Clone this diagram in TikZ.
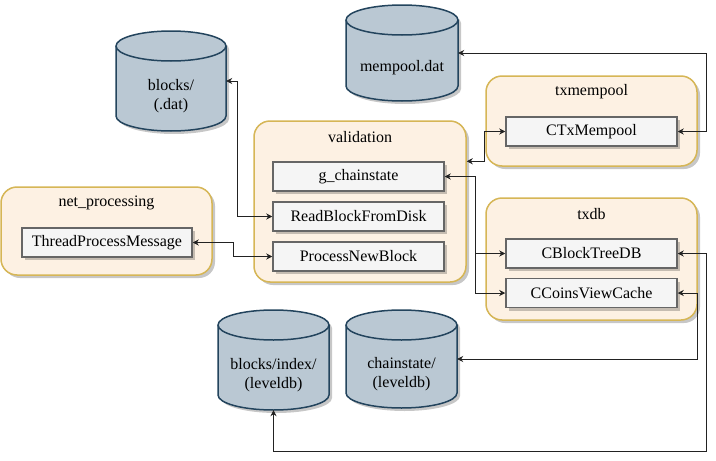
\documentclass[tikz,border=0pt]{standalone}
\usepackage{fontspec}
\setmainfont{Liberation Serif}
\usetikzlibrary{arrows.meta,shadows,calc}
\definecolor{cylfill}{HTML}{BAC8D3}
\definecolor{cyldraw}{HTML}{23445D}
\definecolor{contfill}{HTML}{FDF1E3}
\definecolor{contdraw}{HTML}{D6B656}
\definecolor{boxfill}{HTML}{F5F5F5}
\definecolor{boxdraw}{HTML}{666666}
\definecolor{linecol}{HTML}{222222}
\tikzset{
  shad/.style={drop shadow={shadow xshift=3pt, shadow yshift=-3pt, opacity=0.22, fill=black}},
  container/.style={draw=contdraw, fill=contfill, line width=1.5pt, rounded corners=16pt, inner sep=0, shad},
  boxnode/.style={draw=boxdraw, fill=boxfill, line width=1.5pt, inner sep=0, minimum height=29pt, minimum width=171pt, font=\fontsize{16}{19}\selectfont, shad},
  titletext/.style={font=\fontsize{16}{19}\selectfont, inner sep=0},
  cylstyle/.style={draw=cyldraw, fill=cylfill, line width=1.5pt, shad},
  cylline/.style={draw=cyldraw, line width=1.5pt},
  cyltext/.style={align=center, inner sep=0, font=\fontsize{16}{19.5}\selectfont},
  conn/.style={draw=linecol, line width=0.8pt, {Stealth[length=6pt,width=6pt]}-{Stealth[length=6pt,width=6pt]}},
  conne/.style={draw=linecol, line width=0.8pt, -{Stealth[length=6pt,width=6pt]}},
}
\newcommand\dbcyl[6]{%
 \pgfmathsetmacro\cya{#2}\pgfmathsetmacro\cyb{#2+#4}\pgfmathsetmacro\cym{#2+#4/2}%
 \pgfmathsetmacro\cyt{#3}\pgfmathsetmacro\cybt{#3+#5}%
 \pgfmathsetmacro\cykx{0.5523*#4/2}\pgfmathsetmacro\cyky{0.5523*15}%
 \path[cylstyle] (\cya,\cyt+15) -- (\cya,\cybt-15) .. controls (\cya,\cybt-15+\cyky) and (\cym-\cykx,\cybt) .. (\cym,\cybt) .. controls (\cym+\cykx,\cybt) and (\cyb,\cybt-15+\cyky) .. (\cyb,\cybt-15) -- (\cyb,\cyt+15) .. controls (\cyb,\cyt+15-\cyky) and (\cym+\cykx,\cyt) .. (\cym,\cyt) .. controls (\cym-\cykx,\cyt) and (\cya,\cyt+15-\cyky) .. (\cya,\cyt+15) -- cycle;
 \draw[cylline] (\cya,\cyt+15) .. controls (\cya,\cyt+15+\cyky) and (\cym-\cykx,\cyt+30) .. (\cym,\cyt+30) .. controls (\cym+\cykx,\cyt+30) and (\cyb,\cyt+15+\cyky) .. (\cyb,\cyt+15);
 \node[inner sep=0, minimum width=#4, minimum height=#5] (#1) at (\cym,{(\cyt+\cybt)/2}) {};
 \node[cyltext] (#1-t) at (\cym,{(\cyt+30+\cybt)/2}) {#6};
}
\begin{document}
\begin{tikzpicture}[x=1pt,y=-1pt]
\useasboundingbox[fill=white] (0,0) rectangle (716,461);
% cylinders
\dbcyl{blk}{116}{31}{110}{100}{blocks/\\(.dat)}
\dbcyl{mem}{346}{5}{112}{96}{mempool.dat}
\dbcyl{bidx}{218}{310}{111}{100}{blocks/index/\\(leveldb)}
\dbcyl{cst}{346}{310}{111}{98}{chainstate/\\(leveldb)}
% containers
\node[container, minimum width=212pt, minimum height=161pt] (val) at (360,201.5) {};
\node[titletext] (valt) at (360,137) {validation};
\node[container, minimum width=211pt, minimum height=88pt] (net) at (106.5,231) {};
\node[titletext] (nett) at (106.5,203) {net\_processing};
\node[container, minimum width=211pt, minimum height=90pt] (txm) at (591.5,121) {};
\node[titletext] (txmt) at (591.5,92) {txmempool};
\node[container, minimum width=211pt, minimum height=122pt] (txd) at (591.5,259) {};
\node[titletext] (txdt) at (591.5,214) {txdb};
% inner boxes
\node[boxnode] (gcs) at (358.5,176.5) {g\_chainstate};
\node[boxnode] (rbfd) at (358.5,216.5) {ReadBlockFromDisk};
\node[boxnode] (pnb) at (358.5,256.5) {ProcessNewBlock};
\node[boxnode, minimum width=170pt] (tpm) at (107,242.5) {ThreadProcessMessage};
\node[boxnode] (ctx) at (591.5,131.5) {CTxMempool};
\node[boxnode] (cbt) at (591.5,253.5) {CBlockTreeDB};
\node[boxnode] (ccv) at (591.5,293) {CCoinsViewCache};
% connectors
\draw[conn] (blk.east) -- ++(11,0) |- (rbfd.west);
\draw[conn] (tpm.east) -- ++(41,0) |- (pnb.west);
\draw[conn] (ctx.east) -- ++(29,0) |- (mem.east);
\draw[conn] (val.east |- gcs.north) -- ++(18,0) |- (ctx.west);
\draw[conn] (gcs.east) -- ++(31,0) coordinate (gj) |- (cbt.west);
\draw[conne] (gj) |- (ccv.west);
\draw[conn] (ccv.east) -- ++(20,0) |- (cst.east);
\draw[conn] (cbt.east) -- ++(29,0) -- ++(0,197.5) -| (bidx.south);
\end{tikzpicture}
\end{document}
